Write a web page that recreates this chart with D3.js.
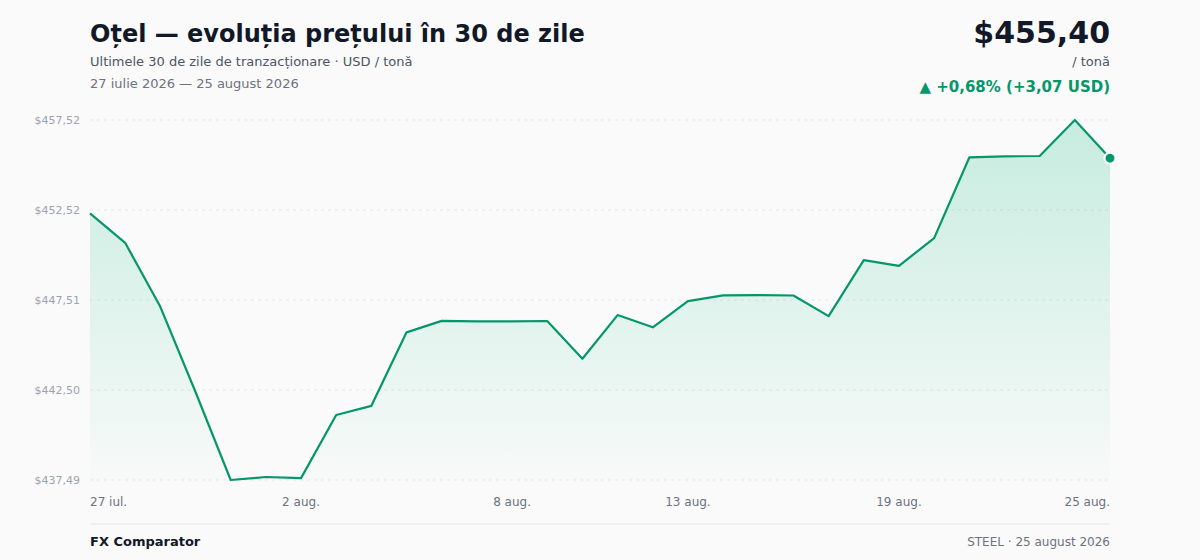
<!DOCTYPE html>
<html lang="ro">
<head>
<meta charset="utf-8">
<script src="https://cdn.jsdelivr.net/npm/d3@7"></script>
<style>
  html, body { margin: 0; padding: 0; background: #fafafa; }
  body { font-family: "DejaVu Sans", sans-serif; }
  #chart { width: 1200px; height: 560px; }
</style>
</head>
<body>
<div id="chart"></div>
<script>
// Date: 30 zile de tranzacționare, preț oțel (USD / tonă)
const startDate = new Date(2026, 6, 27); // 27 iulie 2026
const prices = [
    452.33, 450.69, 447.13, 442.39, 437.494, 437.66, 437.60, 441.11, 441.62, 445.71,
    446.35, 446.32, 446.32, 446.34, 444.24, 446.67, 445.99, 447.45, 447.77, 447.78,
    447.76, 446.61, 449.73, 449.41, 450.95, 455.44, 455.50, 455.52, 457.524, 455.40
];
const dates = prices.map((p, i) => d3.timeDay.offset(startDate, i));
const xTickIndex = [0, 6, 12, 17, 23, 29];
const monthsShort = ["ian.", "feb.", "mar.", "apr.", "mai", "iun.", "iul.", "aug.", "sep.", "oct.", "nov.", "dec."];
const monthsLong = ["ianuarie", "februarie", "martie", "aprilie", "mai", "iunie", "iulie", "august", "septembrie", "octombrie", "noiembrie", "decembrie"];

function drawChart() {
    const width = 1200;
    const height = 560;
    const margin = { top: 120, right: 90, bottom: 80, left: 90 };

    d3.select("#chart").selectAll("*").remove();

    const svg = d3.select("#chart")
        .append("svg")
        .attr("width", width)
        .attr("height", height);

    const data = prices.map((v, i) => ({ date: dates[i], value: v }));

    const x = d3.scaleTime()
        .domain(d3.extent(dates))
        .range([margin.left, width - margin.right]);

    const yMin = d3.min(prices), yMax = d3.max(prices);
    const y = d3.scaleLinear()
        .domain([yMin, yMax])
        .range([height - margin.bottom, margin.top]);

    const fmt2 = v => d3.format(".2f")(v).replace(".", ",");

    // gradient
    const defs = svg.append("defs");
    const grad = defs.append("linearGradient")
        .attr("id", "areaGrad")
        .attr("x1", 0).attr("y1", 0).attr("x2", 0).attr("y2", 1);
    grad.append("stop").attr("offset", "0%").attr("stop-color", "#10b981").attr("stop-opacity", 0.22);
    grad.append("stop").attr("offset", "100%").attr("stop-color", "#10b981").attr("stop-opacity", 0.01);

    // grid + y labels
    const yTicks = d3.range(5).map(i => yMin + (yMax - yMin) * i / 4);
    svg.append("g")
        .selectAll("line")
        .data(yTicks)
        .enter()
        .append("line")
        .attr("x1", margin.left)
        .attr("x2", width - margin.right)
        .attr("y1", d => y(d))
        .attr("y2", d => y(d))
        .attr("stroke", "#e5e7eb")
        .attr("stroke-width", 1)
        .attr("stroke-dasharray", "3,4");

    svg.append("g")
        .selectAll("text")
        .data(yTicks)
        .enter()
        .append("text")
        .attr("x", margin.left - 10)
        .attr("y", d => y(d))
        .attr("dy", "0.35em")
        .attr("text-anchor", "end")
        .attr("fill", "#9ca3af")
        .attr("font-size", "11px")
        .text(d => "$" + fmt2(d));

    // area + line
    const area = d3.area()
        .x(d => x(d.date))
        .y0(height - margin.bottom)
        .y1(d => y(d.value));

    svg.append("path")
        .datum(data)
        .attr("d", area)
        .attr("fill", "url(#areaGrad)");

    const line = d3.line()
        .x(d => x(d.date))
        .y(d => y(d.value));

    svg.append("path")
        .datum(data)
        .attr("d", line)
        .attr("fill", "none")
        .attr("stroke", "#059669")
        .attr("stroke-width", 2.2)
        .attr("stroke-linejoin", "round");

    const last = data[data.length - 1];
    svg.append("circle")
        .attr("cx", x(last.date))
        .attr("cy", y(last.value))
        .attr("r", 5.5)
        .attr("fill", "#059669")
        .attr("stroke", "#ffffff")
        .attr("stroke-width", 2);

    // x labels
    svg.append("g")
        .selectAll("text")
        .data(xTickIndex)
        .enter()
        .append("text")
        .attr("x", i => x(dates[i]))
        .attr("y", height - margin.bottom + 26)
        .attr("text-anchor", (i, k) => k === 0 ? "start" : k === xTickIndex.length - 1 ? "end" : "middle")
        .attr("fill", "#6b7280")
        .attr("font-size", "12px")
        .text(i => dates[i].getDate() + " " + monthsShort[dates[i].getMonth()]);

    // titles
    svg.append("text")
        .attr("x", margin.left)
        .attr("y", 42)
        .attr("fill", "#111827")
        .attr("font-size", "24px")
        .attr("font-weight", "bold")
        .text("Oțel — evoluția prețului în 30 de zile");

    svg.append("text")
        .attr("x", margin.left)
        .attr("y", 66)
        .attr("fill", "#4b5563")
        .attr("font-size", "13px")
        .text("Ultimele 30 de zile de tranzacționare · USD / tonă");

    const d0 = dates[0], d1 = dates[dates.length - 1];
    svg.append("text")
        .attr("x", margin.left)
        .attr("y", 88)
        .attr("fill", "#6b7280")
        .attr("font-size", "13px")
        .text(`${d0.getDate()} ${monthsLong[d0.getMonth()]} ${d0.getFullYear()} — ${d1.getDate()} ${monthsLong[d1.getMonth()]} ${d1.getFullYear()}`);

    // price header
    const first = prices[0];
    const diff = last.value - first;
    const pct = diff / first * 100;

    svg.append("text")
        .attr("x", width - margin.right)
        .attr("y", 43)
        .attr("text-anchor", "end")
        .attr("fill", "#111827")
        .attr("font-size", "30px")
        .attr("font-weight", "bold")
        .text("$" + fmt2(last.value));

    svg.append("text")
        .attr("x", width - margin.right)
        .attr("y", 66)
        .attr("text-anchor", "end")
        .attr("fill", "#4b5563")
        .attr("font-size", "13px")
        .text("/ tonă");

    svg.append("text")
        .attr("x", width - margin.right)
        .attr("y", 92)
        .attr("text-anchor", "end")
        .attr("fill", "#059669")
        .attr("font-size", "15px")
        .attr("font-weight", "bold")
        .text(`▲ +${fmt2(pct)}% (+${fmt2(diff)} USD)`);

    // footer
    svg.append("line")
        .attr("x1", margin.left)
        .attr("x2", width - margin.right)
        .attr("y1", 524)
        .attr("y2", 524)
        .attr("stroke", "#e5e7eb")
        .attr("stroke-width", 1);

    svg.append("text")
        .attr("x", margin.left)
        .attr("y", 546)
        .attr("fill", "#111827")
        .attr("font-size", "13px")
        .attr("font-weight", "bold")
        .text("FX Comparator");

    svg.append("text")
        .attr("x", width - margin.right)
        .attr("y", 546)
        .attr("text-anchor", "end")
        .attr("fill", "#6b7280")
        .attr("font-size", "12px")
        .text(`STEEL · ${d1.getDate()} ${monthsLong[d1.getMonth()]} ${d1.getFullYear()}`);
}

window.addEventListener('load', drawChart);
</script>
</body>
</html>
